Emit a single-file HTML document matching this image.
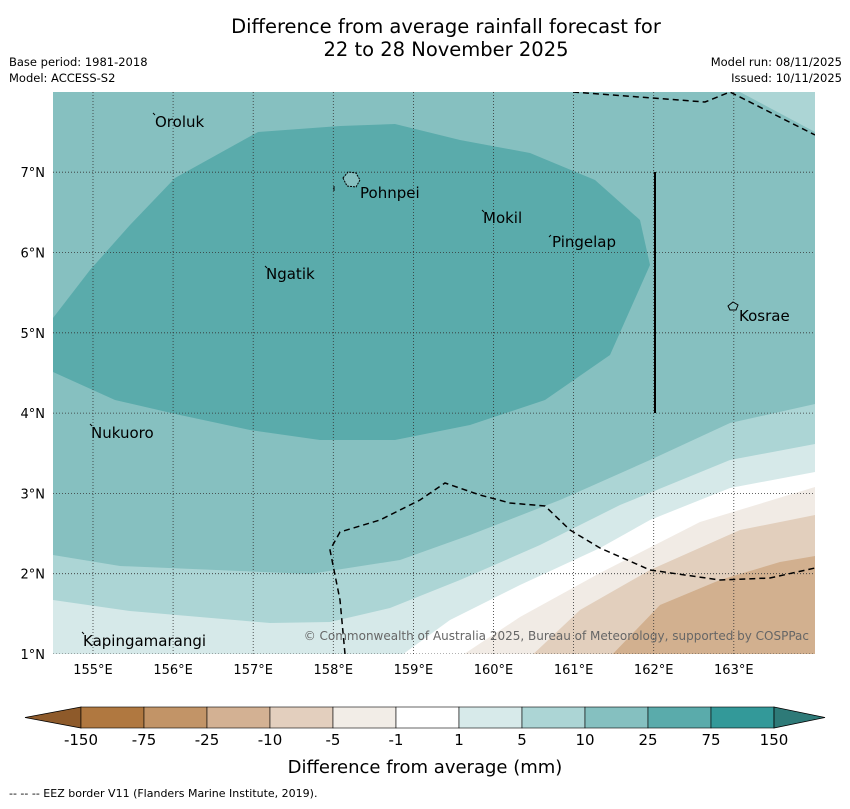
<!DOCTYPE html>
<html><head><meta charset="utf-8"><style>
body{margin:0;background:#fff;font-family:"Liberation Sans","DejaVu Sans",sans-serif}
svg text{font-family:"DejaVu Sans","Liberation Sans",sans-serif}
</style></head><body>
<svg width="850" height="804" viewBox="0 0 850 804">
<text x="446" y="33" font-size="19.5" text-anchor="middle">Difference from average rainfall forecast for</text>
<text x="446" y="56" font-size="19.5" text-anchor="middle">22 to 28 November 2025</text>
<text x="9" y="66" font-size="11.5">Base period: 1981-2018</text>
<text x="9" y="82" font-size="11.5">Model: ACCESS-S2</text>
<text x="842" y="66" font-size="11.5" text-anchor="end">Model run: 08/11/2025</text>
<text x="842" y="82" font-size="11.5" text-anchor="end">Issued: 10/11/2025</text>
<defs><clipPath id="mc"><rect x="53" y="92" width="762" height="562"/></clipPath></defs>
<g clip-path="url(#mc)">
<rect x="53" y="92" width="762" height="562" fill="#86c0c0"/>
<path d="M740,92 L815,92 L815,132 Z" fill="#acd5d5"/>
<path d="M53,318 L90,270 L130,225 L175,178 L258,132 L340,126 L395,124 L460,140 L530,153 L595,180 L640,220 L650,265 L610,355 L545,400 L470,425 L395,440 L320,440 L250,430 L180,415 L115,400 L53,372 Z" fill="#5aabab"/>
<path d="M53,555 L120,566 L310,574 L400,560 L470,535 L560,500 L650,460 L730,423 L815,404 L815,660 L53,660 Z" fill="#acd5d5"/>
<path d="M53,600 L130,611 L270,623 L330,622 L390,608 L460,580 L540,545 L620,505 L730,460 L815,444 L815,660 L53,660 Z" fill="#d6e9e9"/>
<path d="M395,660 L450,620 L520,585 L600,548 L650,520 L730,488 L815,472 L815,660 Z" fill="#ffffff"/>
<path d="M455,660 L520,617 L600,573 L700,522 L815,487 L815,660 Z" fill="#f1ebe5"/>
<path d="M527,660 L580,610 L650,570 L740,530 L815,515 L815,660 Z" fill="#e2cfbd"/>
<path d="M607,660 L660,605 L720,580 L780,562 L815,556 L815,660 Z" fill="#d2b08f"/>
<g id="grid" stroke="#333" stroke-width="0.8" stroke-dasharray="1,2"></g>
<line x1="655" y1="172" x2="655" y2="413" stroke="#000" stroke-width="2"/>
<path d="M573,92 L705,102 L730,92 L815,135" fill="none" stroke="#000" stroke-width="1.5" stroke-dasharray="6,4"/>
<path d="M345,654 L340,600 L330,550 L340,532 L380,520 L420,500 L445,483 L480,495 L510,503 L545,506 L570,530 L600,548 L650,570 L720,580 L770,578 L815,568" fill="none" stroke="#000" stroke-width="1.5" stroke-dasharray="6,4"/>
<path d="M343,178 L348,172 L356,173 L360,180 L356,187 L347,186 Z" fill="#86c0c0" stroke="#000" stroke-width="1" stroke-dasharray="2,1"/>
<line x1="334" y1="186" x2="334" y2="191" stroke="#000"/>
<path d="M728,306 L733,302 L738,305 L736,310 L730,310 Z" fill="#86c0c0" stroke="#000" stroke-width="1"/>
<g stroke="#000" stroke-width="1">
<line x1="153" y1="113" x2="155" y2="115"/><line x1="482" y1="210" x2="484" y2="212"/><line x1="551" y1="235" x2="549" y2="237"/>
<line x1="265" y1="266" x2="267" y2="268"/><line x1="90" y1="424" x2="92" y2="426"/><line x1="82" y1="632" x2="84" y2="634"/>
</g>
</g>
<g font-size="15" fill="#000">
<text x="155" y="127">Oroluk</text>
<text x="360" y="198">Pohnpei</text>
<text x="483" y="223">Mokil</text>
<text x="552" y="247">Pingelap</text>
<text x="266" y="279">Ngatik</text>
<text x="739" y="321">Kosrae</text>
<text x="91" y="438">Nukuoro</text>
<text x="83" y="646">Kapingamarangi</text>
</g>
<text x="809" y="640" font-size="12" fill="#666" text-anchor="end">© Commonwealth of Australia 2025, Bureau of Meteorology, supported by COSPPac</text>
<g id="ticks" font-size="13"></g>
<g id="cbar"></g>
<text x="425" y="773" font-size="18" text-anchor="middle">Difference from average (mm)</text>
<text x="9" y="797" font-size="11">--  --  -- EEZ border V11 (Flanders Marine Institute, 2019).</text>
</svg>
<script>
const lonTicks=[155,156,157,158,159,160,161,162,163];
const latTicks=[1,2,3,4,5,6,7];
const levels=["-150","-75","-25","-10","-5","-1","1","5","10","25","75","150"];
const colors=["#b07840","#c29467","#d3b193","#e3cfbe","#f2ede7","#ffffff","#d7eaea","#acd5d5","#85c0c0","#5aabab","#339999"];
const NS="http://www.w3.org/2000/svg";
function xs(lon){return 93+(lon-155)*80.1;}
function ys(lat){return 654-(lat-1)*80.3;}
function mk(t,a,p){const e=document.createElementNS(NS,t);for(const k in a)e.setAttribute(k,a[k]);p.appendChild(e);return e;}
const grid=document.getElementById('grid'),ticks=document.getElementById('ticks'),cb=document.getElementById('cbar');
lonTicks.forEach(v=>{const x=xs(v);
 const l=mk('line',{x1:x,y1:92,x2:x,y2:654},grid);
 
 
 const t=mk('text',{x:x,y:674,'text-anchor':'middle'},ticks);t.textContent=v+'°E';
 
 });
latTicks.forEach(v=>{const y=ys(v);
 const l=mk('line',{x1:53,y1:y,x2:815,y2:y},grid);
 
 
 const t=mk('text',{x:45,y:y+5,'text-anchor':'end'},ticks);t.textContent=v+'°N';
 
 });
const x0=81,w=63,y0=707,h=21;
const lt=mk('path',{d:`M${x0},${y0} L25,${y0+h/2} L${x0},${y0+h} Z`,fill:'#8e5a2a',stroke:'#000','stroke-width':0.8},cb);


colors.forEach((c,i)=>{const r=mk('rect',{x:x0+i*w,y:y0,width:w,height:h,fill:c,stroke:'#000','stroke-width':0.6},cb);
 
 });
const xe=x0+colors.length*w;
const rt=mk('path',{d:`M${xe},${y0} L825,${y0+h/2} L${xe},${y0+h} Z`,fill:'#2e7a78',stroke:'#000','stroke-width':0.8},cb);


levels.forEach((v,i)=>{const t=mk('text',{x:x0+i*w,y:745,'font-size':15,'text-anchor':'middle'},cb);t.textContent=v;
 
 });
</script>
</body></html>
